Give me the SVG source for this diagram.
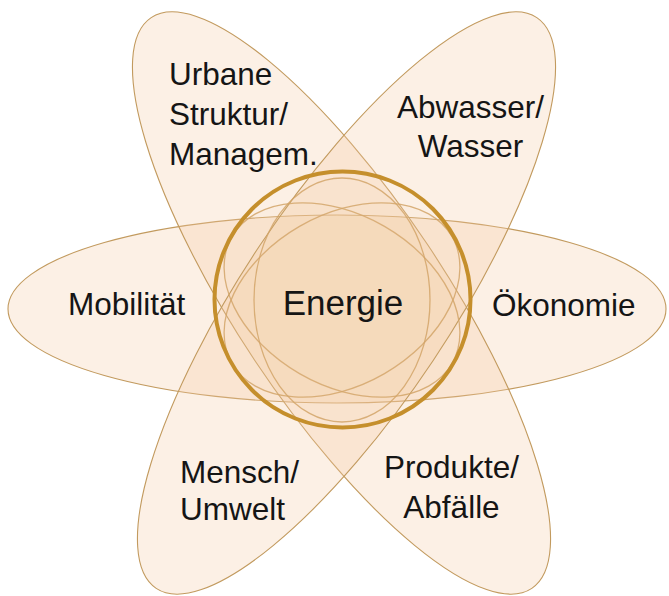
<svg xmlns="http://www.w3.org/2000/svg" width="669" height="596" viewBox="0 0 669 596">
<style>
.petal{fill:#F4C9A0;fill-opacity:0.28;stroke:#C29A5E;stroke-width:1.1}
.inner{fill:#F4C9A0;fill-opacity:0.06;stroke:#D2A468;stroke-opacity:0.85;stroke-width:1.3}
.ring{fill:none;stroke:#C58F2C;stroke-width:4}
.lbl{font-family:"Liberation Sans",Arial,sans-serif;font-size:31.5px;fill:#151515}
.ctr{font-family:"Liberation Sans",Arial,sans-serif;font-size:35px;fill:#151515}
</style>
<rect width="669" height="596" fill="#ffffff"/>
<g id="petals">
<g id="petal-horizontal"><ellipse class="petal" cx="337" cy="309" rx="329" ry="94"/></g>
<g id="petal-urbane-produkte"><ellipse class="petal" cx="0" cy="0" rx="343" ry="104" transform="translate(341.5 303) rotate(56.3)"/></g>
<g id="petal-abwasser-mensch"><ellipse class="petal" cx="0" cy="0" rx="343" ry="104" transform="translate(346.5 303) rotate(-56.3)"/></g>
</g>
<g id="energie">
<g id="atom">
<ellipse class="inner" cx="0" cy="0" rx="127" ry="85" transform="translate(342 300) rotate(30)"/>
<ellipse class="inner" cx="0" cy="0" rx="127" ry="85" transform="translate(342 300) rotate(150)"/>
<ellipse class="inner" cx="0" cy="0" rx="122" ry="88" transform="translate(342 300) rotate(90)"/>
</g>
<circle class="ring" cx="342.5" cy="299.5" r="128"/>
<text class="ctr" x="343" y="315" text-anchor="middle">Energie</text>
</g>
<g id="urbane">
<text class="lbl" x="169" y="85">Urbane</text>
<text class="lbl" x="169" y="125">Struktur/</text>
<text class="lbl" x="169" y="165">Managem.</text>
</g>
<g id="abwasser">
<text class="lbl" x="470.5" y="118" text-anchor="middle">Abwasser/</text>
<text class="lbl" x="470.5" y="157" text-anchor="middle">Wasser</text>
</g>
<g id="mobilitaet"><text class="lbl" x="68" y="315">Mobilität</text></g>
<g id="oekonomie"><text class="lbl" x="492" y="316">Ökonomie</text></g>
<g id="mensch">
<text class="lbl" x="180" y="483">Mensch/</text>
<text class="lbl" x="180" y="520">Umwelt</text>
</g>
<g id="produkte">
<text class="lbl" x="451.5" y="478" text-anchor="middle">Produkte/</text>
<text class="lbl" x="451.5" y="518" text-anchor="middle">Abfälle</text>
</g>
</svg>
